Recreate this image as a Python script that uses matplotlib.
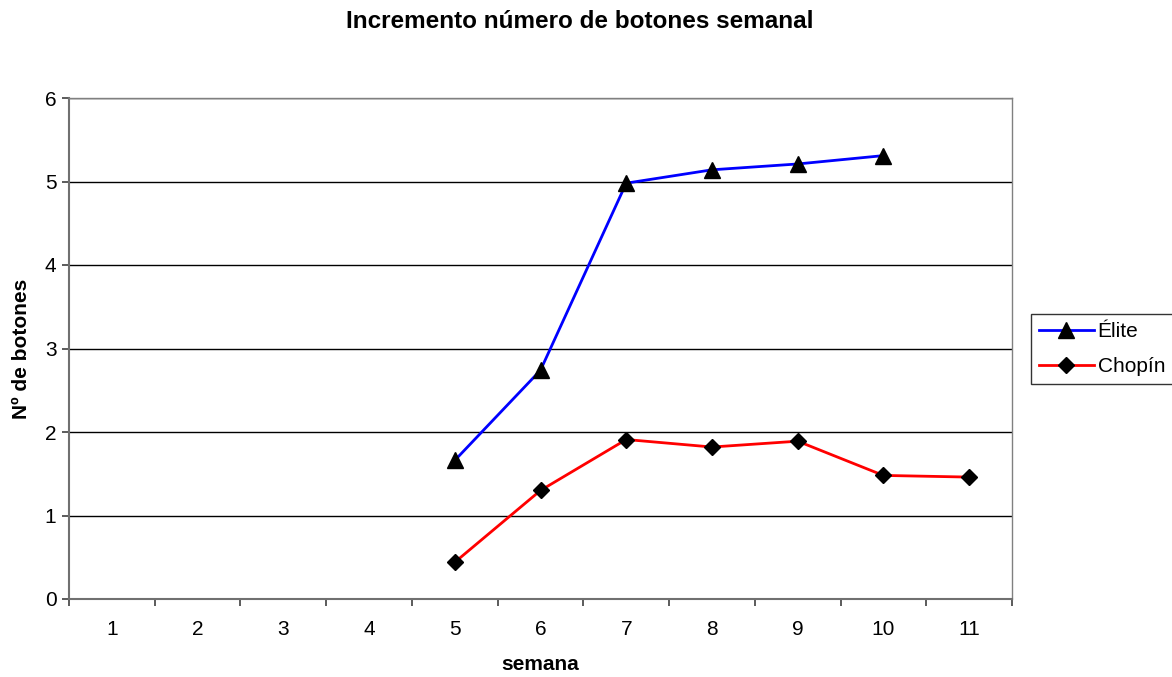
import numpy as np
import matplotlib.pyplot as plt

plt.rcParams['font.family'] = ['Liberation Sans', 'DejaVu Sans']

# datos
semanas = [1, 2, 3, 4, 5, 6, 7, 8, 9, 10, 11]
semanas_elite = [5, 6, 7, 8, 9, 10]
elite = [1.66, 2.74, 4.98, 5.14, 5.21, 5.31]
semanas_chopin = [5, 6, 7, 8, 9, 10, 11]
chopin = [0.44, 1.30, 1.91, 1.82, 1.89, 1.48, 1.46]

fig = plt.figure(figsize=(11.72, 6.77), dpi=100)
ax = fig.add_axes([69 / 1172, 78 / 677, 943 / 1172, 501 / 677])

ax.plot(semanas_elite, elite, color='#0000ff', lw=2, marker='^', ms=12,
        mfc='black', mec='black', label='Élite', zorder=3)
ax.plot(semanas_chopin, chopin, color='#ff0000', lw=2, marker='D', ms=8.5,
        mfc='black', mec='black', label='Chopín', zorder=3)

ax.set_xlim(0.5, 11.5)
ax.set_ylim(0, 6)
ax.set_yticks(range(7))
ax.set_xticks(semanas)
ax.set_xticks(np.arange(0.5, 12, 1), minor=True)
ax.tick_params(axis='x', which='major', length=0, labelsize=15, pad=15)
ax.tick_params(axis='x', which='minor', length=5, color='#404040', width=1.2)
ax.tick_params(axis='y', length=5, color='#404040', width=1.2, labelsize=15, pad=4)
ax.grid(axis='y', color='black', lw=1)
ax.set_axisbelow(True)
for s in ['left', 'bottom']:
    ax.spines[s].set_color('#707070')
    ax.spines[s].set_linewidth(1.5)
for s in ['top', 'right']:
    ax.spines[s].set_color('#808080')
    ax.spines[s].set_linewidth(1)

ax.set_xlabel('semana', fontsize=15, fontweight='bold', labelpad=12)
ax.set_ylabel('Nº de botones', fontsize=15, fontweight='bold', labelpad=10)
fig.text(580 / 1172, 1 - 21 / 677, 'Incremento número de botones semanal',
         ha='center', va='center', fontsize=17.5, fontweight='bold')

leg = ax.legend(loc='upper left', bbox_to_anchor=(1031 / 1172, 1 - 314 / 677),
                bbox_transform=fig.transFigure, fontsize=15, frameon=True,
                fancybox=False, edgecolor='black', handlelength=2.6,
                borderaxespad=0, borderpad=0.4, handletextpad=0.2, labelspacing=0.75)
leg.get_frame().set_linewidth(1)

fig.savefig('out.png', dpi=100)
